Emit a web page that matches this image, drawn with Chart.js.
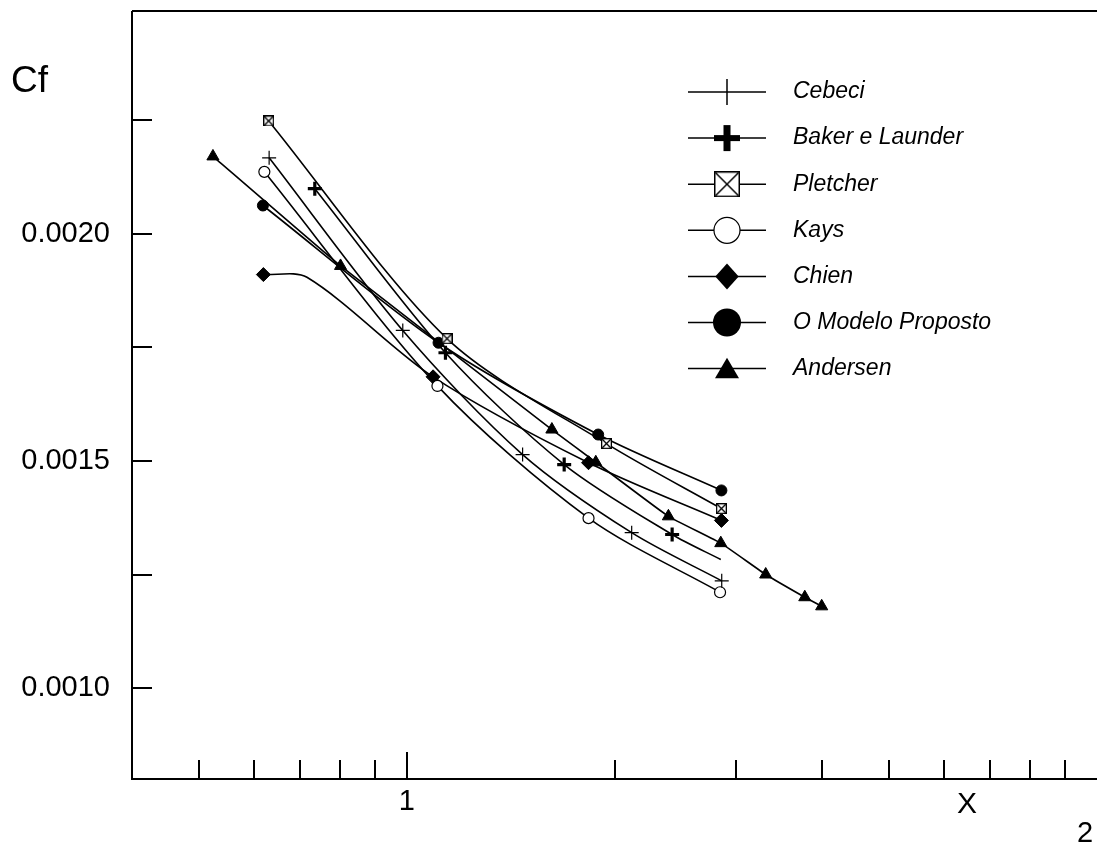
<!DOCTYPE html>
<html>
<head>
<meta charset="utf-8">
<script src="https://cdn.jsdelivr.net/npm/chart.js@4.4.1/dist/chart.umd.min.js"></script>
<style>
html, body { margin: 0; padding: 0; background: #fff; overflow: hidden; }
canvas { display: block; }
</style>
</head>
<body>
<canvas id="cfChart" width="1097" height="856"></canvas>
<script>
// series names as in the legend
const seriesNames = ['Cebeci', 'Baker e Launder', 'Pletcher', 'Kays', 'Chien', 'O Modelo Proposto', 'Andersen'];

// values (x on a log axis)
const cebeciX = [0.632, 0.987, 1.472, 2.118, 2.860];
const cebeciY = [0.002167, 0.001787, 0.001514, 0.001342, 0.001236];

const bakerX = [0.736, 1.138, 1.691, 2.424, 2.851];
const bakerY = [0.002099, 0.001738, 0.001492, 0.001338, 0.001283];
const bakerMarks = [1, 1, 1, 1, 0];

const pletcherX = [0.631, 1.144, 1.947, 2.857];
const pletcherY = [0.002248, 0.001769, 0.001538, 0.001395];

const kaysX = [0.622, 1.108, 1.834, 2.844];
const kaysY = [0.002136, 0.001665, 0.001374, 0.001211];

const chienX = [0.620, 0.717, 1.092, 1.834, 2.857];
const chienY = [0.001910, 0.001904, 0.001685, 0.001496, 0.001369];
const chienMarks = [1, 0, 1, 1, 1];

const modeloX = [0.619, 1.112, 1.894, 2.857];
const modeloY = [0.002062, 0.001760, 0.001558, 0.001435];

const andersenX = [0.524, 0.802, 1.623, 1.879, 2.394, 2.851, 3.312, 3.773, 3.992];
const andersenY = [0.002170, 0.001929, 0.001569, 0.001497, 0.001378, 0.001319, 0.001250, 0.001200, 0.001180];

// axis ticks
const xTicks = [0.5, 0.6, 0.7, 0.8, 0.9, 1, 2, 3, 4, 5, 6, 7, 8, 9];
const xMajor = [1];
const xTickLabels = ['1'];
const yTicks = [0.00100, 0.00125, 0.00150, 0.00175, 0.00200, 0.00225];
const yTickLabels = ['0.0010', '0.0015', '0.0020'];
const yTickLabelValues = [0.0010, 0.0015, 0.0020];

function pts(xs, ys) {
    return xs.map(function (x, i) { return { x: x, y: ys[i] }; });
}

// square with an X inside, used by Pletcher
function boxX(size, lw) {
    const c = document.createElement('canvas');
    c.width = size;
    c.height = size;
    const g = c.getContext('2d');
    g.fillStyle = '#fff';
    g.fillRect(0, 0, size, size);
    g.strokeStyle = '#000';
    g.lineWidth = lw;
    g.strokeRect(lw / 2, lw / 2, size - lw, size - lw);
    g.beginPath();
    g.moveTo(lw, lw);
    g.lineTo(size - lw, size - lw);
    g.moveTo(size - lw, lw);
    g.lineTo(lw, size - lw);
    g.stroke();
    return c;
}

const smallBox = boxX(11, 1.3);
const bigBox = boxX(26, 1.5);

function drawMarker(ctx, m, x, y) {
    ctx.save();
    ctx.strokeStyle = '#000';
    ctx.fillStyle = '#000';
    ctx.lineWidth = m.lw || 1.5;
    ctx.beginPath();
    if (m.kind === 'vbar') {
        ctx.moveTo(x, y - m.r);
        ctx.lineTo(x, y + m.r);
        ctx.stroke();
    } else if (m.kind === 'boldcross') {
        ctx.fillRect(x - 3.5, y - m.r, 7, 2 * m.r);
        ctx.fillRect(x - m.r, y - 3, 2 * m.r, 6);
    } else if (m.kind === 'box') {
        ctx.drawImage(bigBox, x - 13, y - 13);
    } else if (m.kind === 'ocircle') {
        ctx.fillStyle = '#fff';
        ctx.arc(x, y, m.r, 0, Math.PI * 2);
        ctx.fill();
        ctx.stroke();
    } else if (m.kind === 'diamond') {
        ctx.moveTo(x, y - m.r);
        ctx.lineTo(x + m.r * 0.9, y);
        ctx.lineTo(x, y + m.r);
        ctx.lineTo(x - m.r * 0.9, y);
        ctx.closePath();
        ctx.fill();
    } else if (m.kind === 'circle') {
        ctx.arc(x, y, m.r, 0, Math.PI * 2);
        ctx.fill();
    } else if (m.kind === 'triangle') {
        ctx.moveTo(x, y - m.r * 0.9);
        ctx.lineTo(x + m.r, y + m.r * 0.8);
        ctx.lineTo(x - m.r, y + m.r * 0.8);
        ctx.closePath();
        ctx.fill();
    }
    ctx.restore();
}

const legendMarks = [
    { kind: 'vbar', r: 13, lw: 1.5 },
    { kind: 'boldcross', r: 13 },
    { kind: 'box' },
    { kind: 'ocircle', r: 13, lw: 1.2 },
    { kind: 'diamond', r: 13 },
    { kind: 'circle', r: 14 },
    { kind: 'triangle', r: 12 }
];

const frame = {
    id: 'frame',
    afterDraw(chart) {
        const ctx = chart.ctx;
        const a = chart.chartArea;
        const xs = chart.scales.x;
        const ys = chart.scales.y;
        ctx.save();
        ctx.strokeStyle = '#000';
        ctx.lineWidth = 2;
        ctx.beginPath();
        ctx.moveTo(a.left, a.top);
        ctx.lineTo(a.right, a.top);
        ctx.moveTo(a.left, a.top);
        ctx.lineTo(a.left, a.bottom);
        ctx.lineTo(a.right, a.bottom);
        ctx.stroke();

        // y ticks point inward
        yTicks.forEach(function (v) {
            const py = Math.round(ys.getPixelForValue(v));
            ctx.beginPath();
            ctx.moveTo(a.left, py);
            ctx.lineTo(a.left + 20, py);
            ctx.stroke();
        });
        // x ticks point up
        xTicks.forEach(function (v) {
            const px = Math.round(xs.getPixelForValue(v));
            const len = xMajor.indexOf(v) >= 0 ? 27 : 19;
            ctx.beginPath();
            ctx.moveTo(px, a.bottom);
            ctx.lineTo(px, a.bottom - len);
            ctx.stroke();
        });

        ctx.fillStyle = '#000';
        ctx.font = '29px "Liberation Sans", Arial, sans-serif';
        ctx.textAlign = 'right';
        ctx.textBaseline = 'middle';
        yTickLabelValues.forEach(function (v, i) {
            ctx.fillText(yTickLabels[i], 110, ys.getPixelForValue(v));
        });
        ctx.textAlign = 'center';
        xMajor.forEach(function (v, i) {
            ctx.fillText(xTickLabels[i], xs.getPixelForValue(v), 802);
        });
        ctx.font = '30px "Liberation Sans", Arial, sans-serif';
        ctx.fillText('X', 967, 805);
        ctx.font = '29px "Liberation Sans", Arial, sans-serif';
        ctx.fillText('2', 1085, 834);
        ctx.textAlign = 'left';
        ctx.font = '37px "Liberation Sans", Arial, sans-serif';
        ctx.fillText('Cf', 11, 82);

        // legend
        ctx.font = 'italic 23px "Liberation Sans", Arial, sans-serif';
        ctx.textBaseline = 'middle';
        seriesNames.forEach(function (name, i) {
            const ly = 92 + i * 46.1;
            ctx.lineWidth = 1.5;
            ctx.beginPath();
            ctx.moveTo(688, ly);
            ctx.lineTo(766, ly);
            ctx.stroke();
            drawMarker(ctx, legendMarks[i], 727, ly);
            ctx.fillText(name, 793, ly);
        });
        ctx.restore();
    }
};

function radii(marks, r) {
    return marks.map(function (m) { return m ? r : 0; });
}

const base = {
    borderColor: '#000',
    backgroundColor: '#000',
    pointBorderColor: '#000',
    pointBackgroundColor: '#000',
    borderWidth: 1.6,
    tension: 0.3,
    fill: false
};

new Chart(document.getElementById('cfChart'), {
    type: 'line',
    data: {
        datasets: [
            Object.assign({}, base, { label: seriesNames[0], data: pts(cebeciX, cebeciY), pointStyle: 'cross', pointRadius: 7, pointBorderWidth: 1.2 }),
            Object.assign({}, base, { label: seriesNames[1], data: pts(bakerX, bakerY), pointStyle: 'cross', pointRadius: radii(bakerMarks, 7), pointBorderWidth: 3.2 }),
            Object.assign({}, base, { label: seriesNames[2], data: pts(pletcherX, pletcherY), pointStyle: smallBox, pointRadius: 5 }),
            Object.assign({}, base, { label: seriesNames[3], data: pts(kaysX, kaysY), pointStyle: 'circle', pointRadius: 5.5, pointBackgroundColor: '#fff', pointBorderWidth: 1.2 }),
            Object.assign({}, base, { label: seriesNames[4], data: pts(chienX, chienY), pointStyle: 'rectRot', pointRadius: radii(chienMarks, 7), pointBorderWidth: 1 }),
            Object.assign({}, base, { label: seriesNames[5], data: pts(modeloX, modeloY), pointStyle: 'circle', pointRadius: 5.5, pointBorderWidth: 1 }),
            Object.assign({}, base, { label: seriesNames[6], data: pts(andersenX, andersenY), pointStyle: 'triangle', pointRadius: 7, pointBorderWidth: 1, tension: 0.1 })
        ]
    },
    options: {
        responsive: false,
        animation: false,
        devicePixelRatio: 1,
        layout: { autoPadding: false, padding: { left: 132, top: 11, right: 0, bottom: 77 } },
        plugins: {
            legend: { display: false },
            tooltip: { enabled: false }
        },
        scales: {
            x: { type: 'logarithmic', min: 0.4, max: 10, display: false },
            y: { type: 'linear', min: 0.0008, max: 0.00249, display: false }
        }
    },
    plugins: [frame]
});
</script>
</body>
</html>
